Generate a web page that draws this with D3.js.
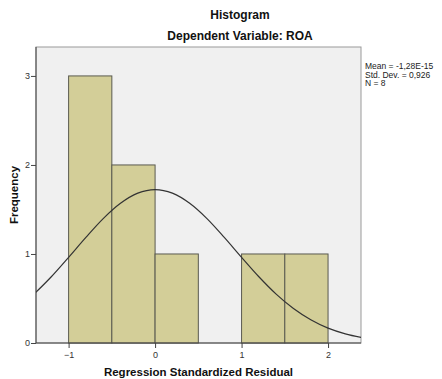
<!DOCTYPE html>
<html><head><meta charset="utf-8">
<script src="https://cdn.jsdelivr.net/npm/d3@7"></script>
<style>body{margin:0;background:#fff}svg{display:block}</style>
</head><body>
<script>
const binStarts = [-1, -0.5, 0, 0.5, 1, 1.5];
const binWidth = 0.5;
const frequencies = [3, 2, 1, 0, 1, 1];
const xTicks = [-1, 0, 1, 2];
const yTicks = [0, 1, 2, 3];
const curveX = [-1.4,-1.2,-1.0,-0.8,-0.6,-0.4,-0.2,0,0.2,0.4,0.6,0.8,1.0,1.2,1.4,1.6,1.8,2.0,2.2,2.4];
const curveY = [0.549,0.744,0.962,1.186,1.397,1.569,1.683,1.723,1.683,1.569,1.397,1.186,0.962,0.744,0.549,0.387,0.261,0.167,0.103,0.060];
const statsLines = ["Mean = -1,28E-15", "Std. Dev. = 0,926", "N = 8"];

const W = 442, H = 379;
const L = 36, R = 361, T = 47, B = 343;
const svg = d3.select("body").append("svg").attr("width", W).attr("height", H);
const font = "'Liberation Sans', Arial, sans-serif";

const x = d3.scaleLinear().domain([-1.377, 2.381]).range([L, R]);
const y = d3.scaleLinear().domain([0, 3.325]).range([B, T]);

svg.append("rect").attr("x", L).attr("y", T).attr("width", R - L).attr("height", B - T)
  .attr("fill", "#f0f0f0").attr("stroke", "#9a9a9a").attr("stroke-width", 1);

svg.append("defs").append("clipPath").attr("id", "clip")
  .append("rect").attr("x", L).attr("y", T).attr("width", R - L).attr("height", B - T);

const bars = binStarts.map((s, i) => ({s, f: frequencies[i]})).filter(d => d.f > 0);
svg.append("g").selectAll("rect").data(bars).join("rect")
  .attr("x", d => x(d.s)).attr("y", d => y(d.f))
  .attr("width", d => x(d.s + binWidth) - x(d.s))
  .attr("height", d => y(0) - y(d.f))
  .attr("fill", "#d3ce98").attr("stroke", "#5a5a50").attr("stroke-width", 1);

const line = d3.line().x((d, i) => x(curveX[i])).y(d => y(d)).curve(d3.curveMonotoneX);
svg.append("path").attr("d", line(curveY)).attr("clip-path", "url(#clip)")
  .attr("fill", "none").attr("stroke", "#333").attr("stroke-width", 1.2);

// axes
const xAxis = d3.axisBottom(x).tickValues(xTicks).tickSize(5).tickFormat(d3.format("d"));
const gx = svg.append("g").attr("transform", `translate(0,${B})`).call(xAxis);
gx.select(".domain").remove();
gx.selectAll("line").attr("stroke", "#444");
gx.selectAll("text").attr("font-family", font).attr("font-size", 9).attr("fill", "#333").attr("dy", "0.75em");
svg.append("line").attr("x1", L).attr("x2", R).attr("y1", B).attr("y2", B).attr("stroke", "#444");

const yAxis = d3.axisLeft(y).tickValues(yTicks).tickSize(5).tickFormat(d3.format("d"));
const gy = svg.append("g").attr("transform", `translate(${L},0)`).call(yAxis);
gy.select(".domain").remove();
gy.selectAll("line").attr("stroke", "#444");
gy.selectAll("text").attr("font-family", font).attr("font-size", 9).attr("fill", "#333").attr("x", -6);
svg.append("line").attr("x1", L).attr("x2", L).attr("y1", T).attr("y2", B).attr("stroke", "#444");

// titles
svg.append("text").attr("x", 240).attr("y", 19).attr("text-anchor", "middle")
  .attr("font-family", font).attr("font-weight", "bold").attr("font-size", 12).attr("fill", "#111").text("Histogram");
svg.append("text").attr("x", 240).attr("y", 40).attr("text-anchor", "middle")
  .attr("font-family", font).attr("font-weight", "bold").attr("font-size", 12).attr("fill", "#111").text("Dependent Variable: ROA");
svg.append("text").attr("x", 198.5).attr("y", 376).attr("text-anchor", "middle")
  .attr("font-family", font).attr("font-weight", "bold").attr("font-size", 11.5).attr("fill", "#111").text("Regression Standardized Residual");
svg.append("text").attr("transform", "translate(18,195) rotate(-90)").attr("text-anchor", "middle")
  .attr("font-family", font).attr("font-weight", "bold").attr("font-size", 11.5).attr("fill", "#111").text("Frequency");

svg.append("g").selectAll("text").data(statsLines).join("text")
  .attr("x", 365).attr("y", (d, i) => 69 + i * 8.5)
  .attr("font-family", font).attr("font-size", 8.5).attr("fill", "#222").text(d => d);
</script>
</body></html>
